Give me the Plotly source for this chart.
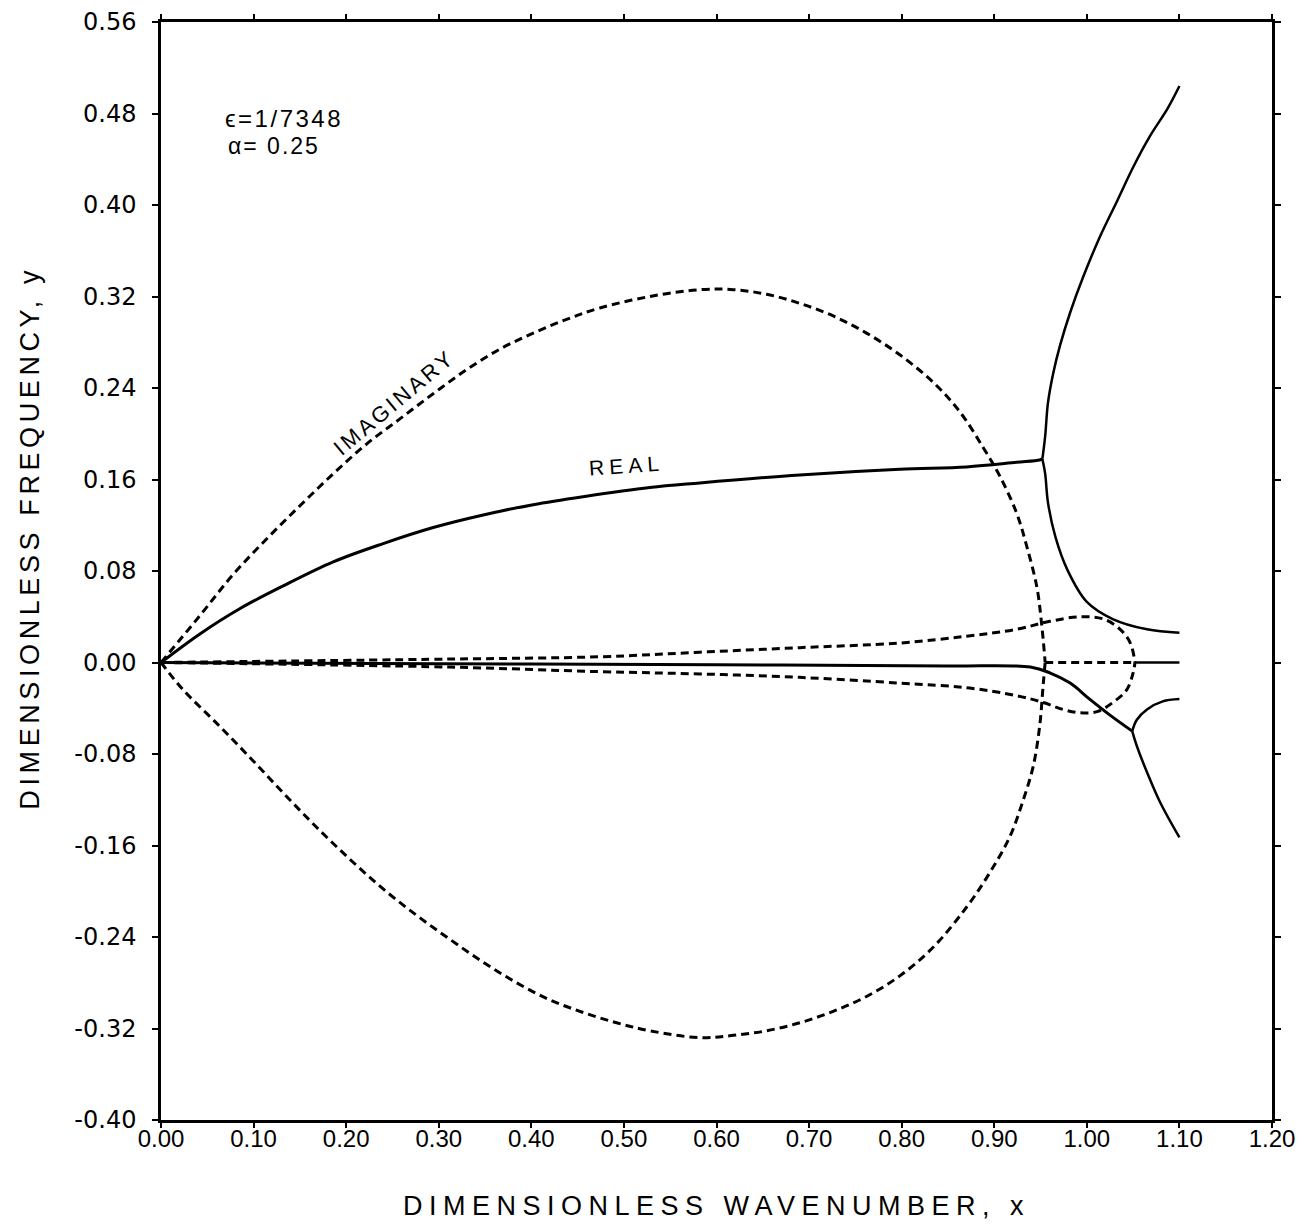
import plotly.graph_objects as go

# ---- data ----
imag_up_x = [0.0, 0.042, 0.078, 0.114, 0.150, 0.186, 0.222, 0.258, 0.294, 0.330, 0.366, 0.402, 0.438, 0.474,
             0.528, 0.582, 0.618, 0.654, 0.690, 0.726, 0.762, 0.798, 0.834, 0.863, 0.888, 0.906, 0.924, 0.935,
             0.946, 0.951, 0.955]
imag_up_y = [0.0, 0.041, 0.077, 0.108, 0.137, 0.165, 0.191, 0.213, 0.235, 0.256, 0.274, 0.288, 0.300, 0.310,
             0.320, 0.326, 0.326, 0.322, 0.314, 0.303, 0.288, 0.269, 0.245, 0.219, 0.188, 0.163, 0.131, 0.102,
             0.066, 0.035, 0.0]
imag_lo_x = [0.0, 0.024, 0.060, 0.096, 0.132, 0.168, 0.204, 0.240, 0.276, 0.312, 0.348, 0.384, 0.420, 0.456,
             0.492, 0.528, 0.582, 0.618, 0.654, 0.690, 0.726, 0.762, 0.798, 0.834, 0.870, 0.895, 0.917, 0.931,
             0.942, 0.949, 0.953, 0.955]
imag_lo_y = [0.0, -0.024, -0.053, -0.083, -0.114, -0.144, -0.172, -0.198, -0.221, -0.242, -0.262, -0.280,
             -0.295, -0.306, -0.315, -0.322, -0.328, -0.326, -0.322, -0.315, -0.305, -0.292, -0.274, -0.249,
             -0.214, -0.184, -0.152, -0.121, -0.091, -0.056, -0.018, 0.0]
imag_zero_x = [0.955, 1.052]
imag_zero_y = [0.0, 0.0]

loop_up_x = [0.0, 0.312, 0.474, 0.582, 0.690, 0.798, 0.870, 0.924, 0.960, 0.993, 1.018, 1.036, 1.047, 1.052]
loop_up_y = [0.0, 0.003, 0.005, 0.009, 0.013, 0.017, 0.023, 0.029, 0.036, 0.040, 0.038, 0.029, 0.017, 0.0]
loop_lo_x = [0.0, 0.312, 0.474, 0.582, 0.690, 0.798, 0.870, 0.924, 0.953, 0.974, 0.993, 1.011, 1.028, 1.043,
             1.050, 1.052]
loop_lo_y = [0.0, -0.004, -0.008, -0.010, -0.013, -0.018, -0.022, -0.029, -0.035, -0.041, -0.044, -0.043,
             -0.035, -0.024, -0.009, 0.0]

real_main_x = [0.0, 0.042, 0.085, 0.132, 0.186, 0.240, 0.294, 0.348, 0.402, 0.456, 0.528, 0.582, 0.690, 0.798,
               0.870, 0.924, 0.949, 0.952]
real_main_y = [0.0, 0.025, 0.047, 0.067, 0.088, 0.104, 0.118, 0.129, 0.138, 0.145, 0.153, 0.157, 0.164, 0.169,
               0.171, 0.175, 0.177, 0.178]
real_hi_x = [0.952, 0.955, 0.958, 0.964, 0.971, 0.982, 0.996, 1.014, 1.033, 1.050, 1.068, 1.087, 1.100]
real_hi_y = [0.178, 0.198, 0.227, 0.254, 0.277, 0.306, 0.337, 0.372, 0.404, 0.433, 0.460, 0.484, 0.504]
real_mid_x = [0.952, 0.955, 0.958, 0.966, 0.979, 1.000, 1.028, 1.065, 1.100]
real_mid_y = [0.178, 0.165, 0.140, 0.110, 0.081, 0.053, 0.038, 0.029, 0.026]

real_low_x = [0.0, 0.300, 0.600, 0.850, 0.939, 0.960, 0.982, 1.003, 1.025, 1.049]
real_low_y = [0.0, -0.001, -0.002, -0.003, -0.004, -0.009, -0.018, -0.032, -0.046, -0.060]
real_lowa_x = [1.049, 1.054, 1.065, 1.082, 1.100]
real_lowa_y = [-0.060, -0.050, -0.041, -0.034, -0.032]
real_lowb_x = [1.049, 1.054, 1.065, 1.079, 1.100]
real_lowb_y = [-0.060, -0.073, -0.096, -0.122, -0.153]
real_zero_x = [1.052, 1.100]
real_zero_y = [0.0, 0.0]

x_ticks = [0.0, 0.1, 0.2, 0.3, 0.4, 0.5, 0.6, 0.7, 0.8, 0.9, 1.0, 1.1, 1.2]
x_tick_text = ["0.00", "0.10", "0.20", "0.30", "0.40", "0.50", "0.60", "0.70", "0.80", "0.90", "1.00",
               "1.10", "1.20"]
y_ticks = [-0.40, -0.32, -0.24, -0.16, -0.08, 0.0, 0.08, 0.16, 0.24, 0.32, 0.40, 0.48, 0.56]
y_tick_text = ["-0.40", "-0.32", "-0.24", "-0.16", "-0.08", "0.00", "0.08", "0.16", "0.24", "0.32", "0.40",
               "0.48", "0.56"]

FONT = "Liberation Sans, Arial, Helvetica, sans-serif"
YFONT = "DejaVu Sans, Liberation Sans, sans-serif"
DASH = "8px,5px"

fig = go.Figure()

def add(x, y, dashed, w=2.6):
    fig.add_trace(go.Scatter(x=x, y=y, mode="lines", showlegend=False, hoverinfo="skip",
                             line=dict(color="black", width=w, shape="spline", smoothing=1.0,
                                       dash=DASH if dashed else "solid")))

add(imag_up_x, imag_up_y, True, 3)
add(imag_lo_x, imag_lo_y, True, 3)
add(imag_zero_x, imag_zero_y, True, 3.2)
add(loop_up_x, loop_up_y, True, 3)
add(loop_lo_x, loop_lo_y, True, 3)
add(real_main_x, real_main_y, False, 3)
add(real_hi_x, real_hi_y, False, 2.5)
add(real_mid_x, real_mid_y, False, 2.5)
add(real_low_x, real_low_y, False, 3)
add(real_lowa_x, real_lowa_y, False, 2.5)
add(real_lowb_x, real_lowb_y, False, 2.5)
add(real_zero_x, real_zero_y, False, 2.5)

axis_common = dict(showgrid=False, zeroline=False, showline=True, linecolor="black", linewidth=2.5,
                   mirror="ticks", ticks="outside", tickwidth=2, tickcolor="black")

fig.update_xaxes(range=[0, 1.2], tickvals=x_ticks, ticktext=x_tick_text, ticklen=5, ticklabelstandoff=-10,
                 tickfont=dict(family=FONT, size=24, color="black"),
                 title=dict(text="DIMENSIONLESS WAVENUMBER, x", standoff=46,
                            font=dict(family=FONT, size=27, color="black")),
                 **axis_common)
fig.update_yaxes(range=[-0.40, 0.56], tickvals=y_ticks, ticktext=y_tick_text, ticklen=6, ticklabelstandoff=11,
                 tickfont=dict(family=YFONT, size=24, color="black"),
                 **axis_common)

# annotation 0: y-axis title
fig.add_annotation(x=-0.118, y=0.531, xref="paper", yref="paper", text="DIMENSIONLESS FREQUENCY, y",
                   showarrow=False, textangle=-90, xanchor="center", yanchor="middle",
                   font=dict(family=FONT, size=27, color="black"))
fig.add_annotation(x=0.078, y=0.476, xref="x", yref="y", text="ϵ=1/7348", showarrow=False,
                   xanchor="left", yanchor="middle", font=dict(family=FONT, size=24, color="black"))
fig.add_annotation(x=0.078, y=0.452, xref="x", yref="y", text="α= 0.25", showarrow=False,
                   xanchor="left", yanchor="middle", font=dict(family=FONT, size=23, color="black"))
fig.add_annotation(x=0.252, y=0.227, xref="x", yref="y", text="IMAGINARY", showarrow=False, textangle=-40,
                   font=dict(family=FONT, size=22, color="black"))
fig.add_annotation(x=0.503, y=0.172, xref="x", yref="y", text="REAL", showarrow=False, textangle=-4,
                   font=dict(family=FONT, size=21, color="black"))

fig.update_layout(width=1306, height=1231, autosize=False,
                  margin=dict(l=161, r=34, t=22, b=111, autoexpand=False),
                  plot_bgcolor="white", paper_bgcolor="white",
                  font=dict(family=FONT, color="black"))

post = """
document.body.style.margin='0';
document.body.style.overflow='hidden';
var gd = document.getElementById('{plot_id}');
gd.querySelectorAll('.xtitle').forEach(function(e){ e.style.letterSpacing = '6.5px'; });
var sp = ['4.6px', '2.5px', '2px', '3px', '5px'];
gd.querySelectorAll('.annotation-text').forEach(function(e, i){ e.style.letterSpacing = sp[i] || '2px'; });
"""

fig.write_html("out.html", post_script=post, config={"displayModeBar": False})
